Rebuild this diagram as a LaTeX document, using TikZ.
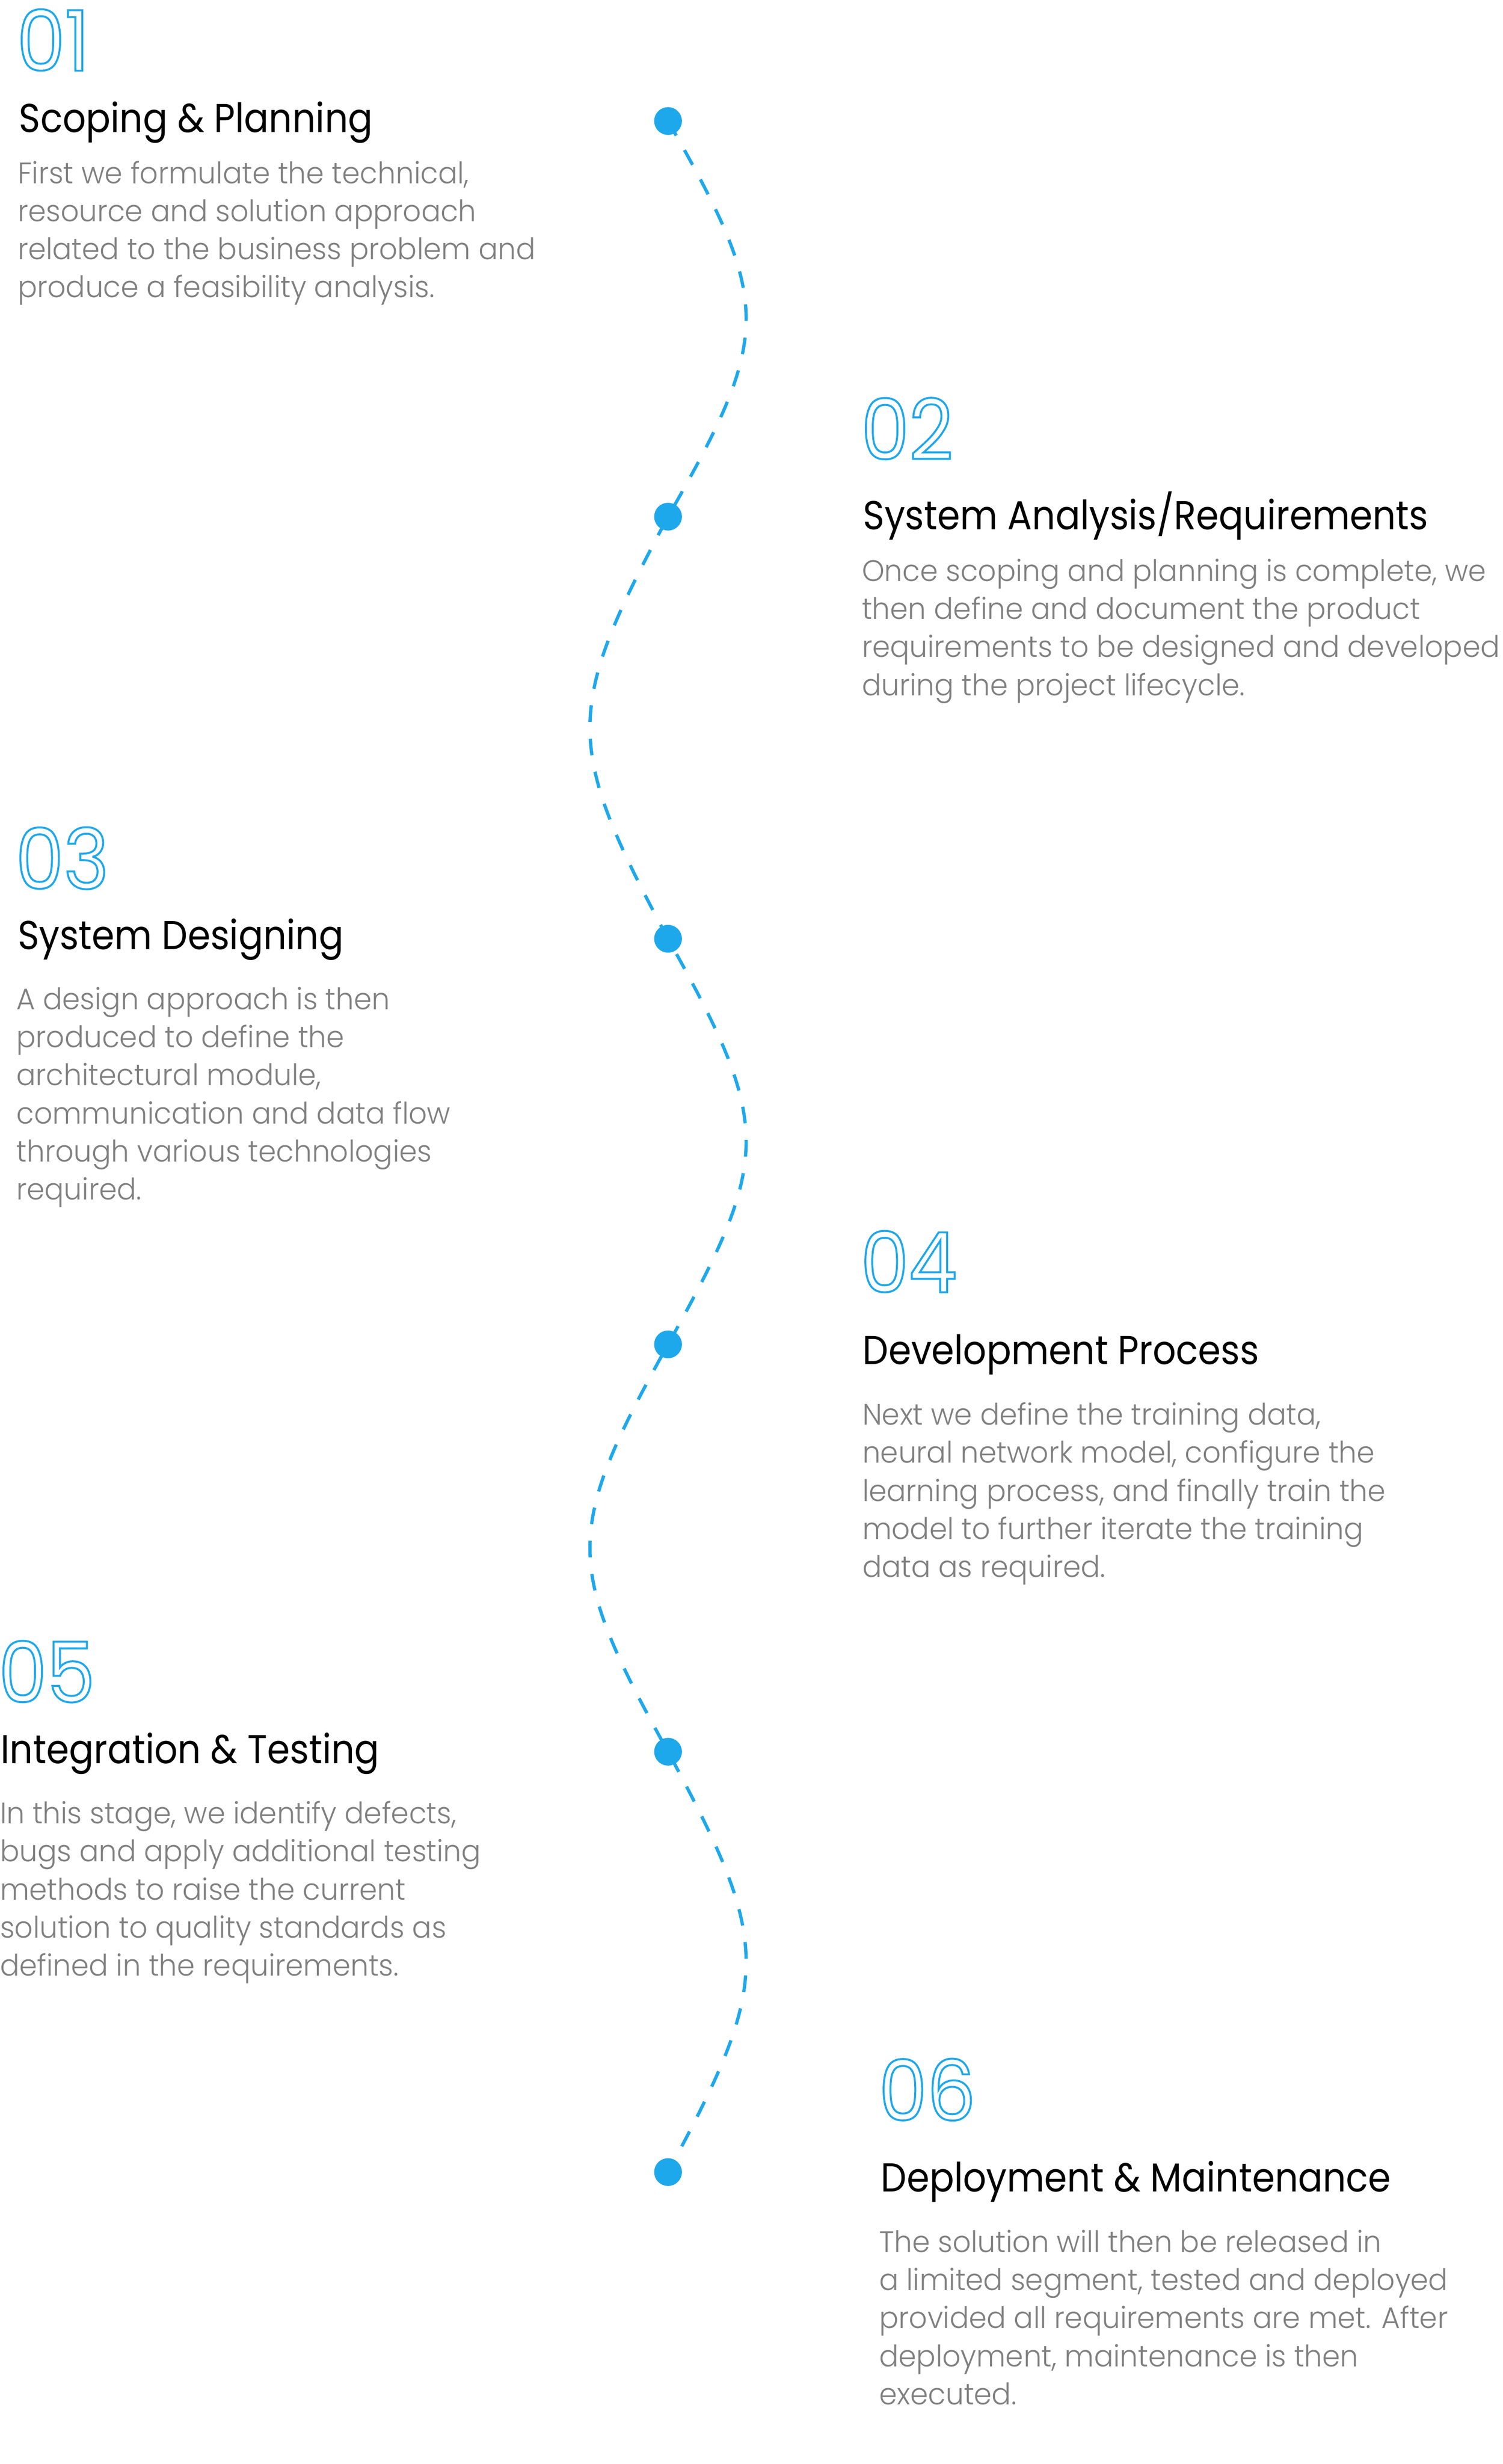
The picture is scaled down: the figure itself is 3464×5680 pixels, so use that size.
\documentclass[tikz,border=0pt]{standalone}
\usepackage{fontspec}
\setmainfont{Poppins}
\usetikzlibrary{backgrounds}
\definecolor{stepblue}{HTML}{1EA8EC}
\definecolor{bodygray}{HTML}{808080}
\newfontfamily\titlefont{Poppins}[FakeStretch=0.905]
\IfFontExistsTF{Poppins Light}{\newfontfamily\bodyfont{Poppins Light}[FakeStretch=0.965]}{\newfontfamily\bodyfont{Poppins}[FakeStretch=0.965]}
\newfontfamily\numfont{Poppins}[FakeStretch=0.915]
\newcommand\outlinedigits[1]{\special{pdf:literal direct 1 Tr 0.9 w}#1\special{pdf:literal direct 0 Tr}}
\newcommand\bodylines[1]{\vtop{\baselineskip=17.54pt\lineskiplimit=-100pt\lineskip=0pt #1}}
\tikzset{
  numtext/.style={anchor=base west, inner sep=0pt, text=stepblue, font=\numfont\fontsize{38.6pt}{40pt}\selectfont},
  titletext/.style={anchor=base west, inner sep=0pt, text=black, font=\titlefont\fontsize{18.6pt}{22pt}\selectfont},
  bodytext/.style={anchor=base west, inner sep=0pt, text=bodygray, font=\bodyfont\fontsize{13.7pt}{17.54pt}\selectfont},
  stepdot/.style={circle, fill=stepblue, minimum size=12.8pt, inner sep=0pt},
  waveline/.style={draw=stepblue, line width=1.5pt, dash pattern=on 7.7pt off 7.7pt},
}
\begin{document}
\begin{tikzpicture}[x=0.2pt, y=-0.2pt]
\useasboundingbox (0,0) rectangle (3464,5680);
% dots
\node[stepdot] (d1) at (1540,279) {};
\node[stepdot] (d2) at (1540,1191) {};
\node[stepdot] (d3) at (1540,2164) {};
\node[stepdot] (d4) at (1540,3099) {};
\node[stepdot] (d5) at (1540,4038) {};
\node[stepdot] (d6) at (1540,5007) {};
\begin{scope}[on background layer]
\draw[waveline] (d1.center)
  .. controls +(240,420) and +(240,-420) .. (d2.center)
  .. controls +(-240,448) and +(-240,-448) .. (d3.center)
  .. controls +(240,430) and +(240,-430) .. (d4.center)
  .. controls +(-240,432) and +(-240,-432) .. (d5.center)
  .. controls +(240,446) and +(240,-446) .. (d6.center);
\end{scope}
% section 01
\node[numtext] (n1) at (38,163) {\outlinedigits{01}};
\node[titletext] (t1) at (43,305) {Scoping \& Planning};
\node[bodytext] (b1) at (40,423) {\bodylines{\hbox{First we formulate the technical,}\hbox{resource and solution approach}\hbox{related to the business problem and}\hbox{produce a feasibility analysis.}}};
% section 02
\node[numtext] (n2) at (1984,1059) {\outlinedigits{02}};
\node[titletext] (t2) at (1989,1221) {System Analysis/Requirements};
\node[bodytext] (b2) at (1986,1340) {\bodylines{\hbox{Once scoping and planning is complete, we}\hbox{then define and document the product}\hbox{requirements to be designed and developed}\hbox{during the project lifecycle.}}};
% section 03
\node[numtext] (n3) at (35,2049) {\outlinedigits{03}};
\node[titletext] (t3) at (40,2188) {System Designing};
\node[bodytext] (b3) at (37,2327) {\bodylines{\hbox{A design approach is then}\hbox{produced to define the}\hbox{architectural module,}\hbox{communication and data flow}\hbox{through various technologies}\hbox{required.}}};
% section 04
\node[numtext] (n4) at (1983,2979) {\outlinedigits{04}};
\node[titletext] (t4) at (1988,3145) {Development Process};
\node[bodytext] (b4) at (1987,3285) {\bodylines{\hbox{Next we define the training data,}\hbox{neural network model, configure the}\hbox{learning process, and finally train the}\hbox{model to further iterate the training}\hbox{data as required.}}};
% section 05
\node[numtext] (n5) at (-4,3924) {\outlinedigits{05}};
\node[titletext] (t5) at (1,4065) {Integration \& Testing};
\node[bodytext] (b5) at (-1,4204) {\bodylines{\hbox{In this stage, we identify defects,}\hbox{bugs and apply additional testing}\hbox{methods to raise the current}\hbox{solution to quality standards as}\hbox{defined in the requirements.}}};
% section 06
\node[numtext] (n6) at (2025,4888) {\outlinedigits{06}};
\node[titletext] (t6) at (2030,5052) {Deployment \& Maintenance};
\node[bodytext] (b6) at (2026,5192) {\bodylines{\hbox{The solution will then be released in}\hbox{a limited segment, tested and deployed}\hbox{provided all requirements are met. After}\hbox{deployment, maintenance is then}\hbox{executed.}}};
\end{tikzpicture}
\end{document}
